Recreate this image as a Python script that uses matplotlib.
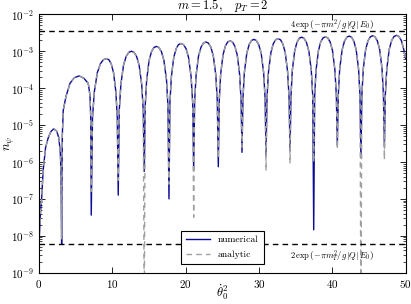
import numpy as np
import matplotlib
matplotlib.use("Agg")
import matplotlib.pyplot as plt
from matplotlib.ticker import LogLocator, NullFormatter

plt.rcParams['font.family'] = ['serif']
plt.rcParams['font.serif'] = ['cmr10', 'DejaVu Serif']
plt.rcParams['mathtext.fontset'] = 'cm'
plt.rcParams['axes.unicode_minus'] = False
plt.rcParams['axes.formatter.use_mathtext'] = True

# ---- data ----
# shared arch points (both curves coincide away from the dips)
theta2_arch = [
    0.15, 0.35, 0.57, 0.9, 1.25, 1.6, 2.0, 2.4, 2.7, 2.9, 3.0,
    3.17, 3.30, 3.67, 4.22, 4.80, 5.48, 6.10, 6.71, 6.95, 7.05,
    7.29, 7.54, 7.95, 8.37, 8.78, 9.20, 9.52, 9.84, 10.16, 10.48, 10.67,
    10.94, 11.16, 11.52, 11.88, 12.24, 12.60, 12.95, 13.30, 13.65, 14.00, 14.21,
    14.48, 14.68, 15.01, 15.34, 15.67, 16.00, 16.34, 16.69, 17.03, 17.38, 17.58,
    17.85, 18.05, 18.37, 18.70, 19.02, 19.35, 19.70, 20.05, 20.39, 20.74, 20.95,
    21.22, 21.42, 21.75, 22.09, 22.42, 22.75, 23.09, 23.43, 23.77, 24.11, 24.31,
    24.58, 24.77, 25.09, 25.41, 25.73, 26.05, 26.38, 26.70, 27.03, 27.35, 27.55,
    27.81, 28.00, 28.33, 28.65, 28.98, 29.30, 29.63, 29.96, 30.30, 30.63, 30.83,
    31.09, 31.29, 31.62, 31.94, 32.27, 32.60, 32.93, 33.25, 33.58, 33.90, 34.10,
    34.36, 34.54, 34.86, 35.17, 35.49, 35.80, 36.13, 36.46, 36.80, 37.13, 37.33,
    37.59, 37.78, 38.10, 38.41, 38.73, 39.05, 39.38, 39.70, 40.03, 40.35, 40.55,
    40.81, 41.00, 41.33, 41.65, 41.98, 42.30, 42.62, 42.94, 43.26, 43.58, 43.77,
    44.03, 44.22, 44.54, 44.86, 45.18, 45.50, 45.82, 46.14, 46.46, 46.78, 46.97,
    47.23, 47.43, 47.76, 48.09, 48.42, 48.75, 49.08, 49.41, 49.74, 50.00,
]
n_arch = [
    3.2e-8, 1.0e-7, 6.3e-7, 2.5e-6, 4.5e-6, 6.6e-6, 7.9e-6, 6.9e-6, 4.5e-6, 1.8e-6, 5.0e-7,
    5.0e-6, 2.5e-5, 5.9e-5, 1.35e-4, 1.91e-4, 2.14e-4, 1.86e-4, 1.35e-4, 6.3e-5, 1.6e-5,
    1.58e-5, 7.94e-5, 2.63e-4, 4.57e-4, 5.89e-4, 6.31e-4, 5.89e-4, 4.57e-4, 2.63e-4, 7.94e-5, 1.58e-5,
    2.51e-5, 1.26e-4, 4.17e-4, 7.24e-4, 9.33e-4, 1.00e-3, 9.33e-4, 7.24e-4, 4.17e-4, 1.26e-4, 2.51e-5,
    3.39e-5, 1.70e-4, 5.62e-4, 9.77e-4, 1.26e-3, 1.35e-3, 1.26e-3, 9.77e-4, 5.62e-4, 1.70e-4, 3.39e-5,
    4.07e-5, 2.04e-4, 6.76e-4, 1.17e-3, 1.51e-3, 1.62e-3, 1.51e-3, 1.17e-3, 6.76e-4, 2.04e-4, 4.07e-5,
    4.47e-5, 2.24e-4, 7.41e-4, 1.29e-3, 1.66e-3, 1.78e-3, 1.66e-3, 1.29e-3, 7.41e-4, 2.24e-4, 4.47e-5,
    4.79e-5, 2.40e-4, 7.94e-4, 1.38e-3, 1.78e-3, 1.91e-3, 1.78e-3, 1.38e-3, 7.94e-4, 2.40e-4, 4.79e-5,
    5.25e-5, 2.63e-4, 8.71e-4, 1.51e-3, 1.95e-3, 2.09e-3, 1.95e-3, 1.51e-3, 8.71e-4, 2.63e-4, 5.25e-5,
    5.50e-5, 2.75e-4, 9.12e-4, 1.58e-3, 2.04e-3, 2.19e-3, 2.04e-3, 1.58e-3, 9.12e-4, 2.75e-4, 5.50e-5,
    6.03e-5, 3.02e-4, 1.00e-3, 1.74e-3, 2.24e-3, 2.40e-3, 2.24e-3, 1.74e-3, 1.00e-3, 3.02e-4, 6.03e-5,
    6.17e-5, 3.09e-4, 1.02e-3, 1.78e-3, 2.29e-3, 2.45e-3, 2.29e-3, 1.78e-3, 1.02e-3, 3.09e-4, 6.17e-5,
    6.46e-5, 3.24e-4, 1.07e-3, 1.86e-3, 2.40e-3, 2.57e-3, 2.40e-3, 1.86e-3, 1.07e-3, 3.24e-4, 6.46e-5,
    6.61e-5, 3.31e-4, 1.10e-3, 1.91e-3, 2.45e-3, 2.63e-3, 2.45e-3, 1.91e-3, 1.10e-3, 3.31e-4, 6.61e-5,
    6.76e-5, 3.39e-4, 1.12e-3, 1.95e-3, 2.51e-3, 2.69e-3, 2.51e-3, 1.95e-3, 1.12e-3, 6.31e-4,
]
# dips (minima) where the two curves differ
theta2_dip = [0.0, 3.08, 7.12, 10.80, 14.35, 17.72, 21.09, 24.45, 27.68,
              30.96, 34.23, 37.46, 40.68, 43.90, 47.10]
n_dip_numerical = [6.3e-9, 6.0e-9, 3.63e-8, 1.26e-7, 5.5e-7, 1.0e-7, 6.03e-7,
                   7.41e-7, 1.82e-6, 1.58e-6, 2.0e-6, 1.45e-8, 2.82e-6, 1.29e-6, 2.51e-6]
n_dip_analytic = [6.3e-9, 8.0e-9, 1.58e-7, 3.16e-7, 1e-10, 2.5e-7, 3.16e-8,
                  1.26e-6, 2.51e-6, 5.75e-7, 9.12e-7, 1.0e-6, 2.24e-6, 1e-10, 1.17e-6]

upper_bound = 3.45e-3   # 4 exp(-pi m^2 / g|Q|E0)
lower_bound = 5.9e-9    # 2 exp(-pi mT^2 / g|Q|E0)

x_ticks = [0, 10, 20, 30, 40, 50]


def assemble(dips):
    x = np.array(theta2_arch + theta2_dip)
    y = np.array(n_arch + dips)
    order = np.argsort(x, kind="stable")
    return x[order], y[order]


x_num, y_num = assemble(n_dip_numerical)
x_ana, y_ana = assemble(n_dip_analytic)

fig = plt.figure(figsize=(4.11, 3.04), dpi=100)
ax = fig.add_axes([0.095, 0.103, 0.892, 0.850])

ax.plot(x_num, y_num, color='#0a0a96', lw=1.0, label='numerical')
ax.plot(x_ana, y_ana, color='#a0a0a0', lw=1.0, dashes=(4, 3), label='analytic')
ax.axhline(upper_bound, color='black', lw=1.0, dashes=(4, 3))
ax.axhline(lower_bound, color='black', lw=1.0, dashes=(4, 3))

ax.set_yscale('log')
ax.set_xlim(0, 50)
ax.set_ylim(1e-9, 1e-2)
ax.set_xticks(x_ticks)
ax.yaxis.set_major_locator(LogLocator(base=10, numticks=20))
ax.yaxis.set_minor_locator(LogLocator(base=10, subs=np.arange(2, 10), numticks=20))
ax.yaxis.set_minor_formatter(NullFormatter())

ax.tick_params(which='both', direction='in', top=True, right=True, labelsize=8)
ax.tick_params(which='major', length=4, width=0.6)
ax.tick_params(which='minor', length=2, width=0.5)
for s in ax.spines.values():
    s.set_linewidth(0.8)

ax.set_title(r'$m = 1.5, \quad p_T = 2$', fontsize=9, pad=2)
ax.set_xlabel(r'$\dot{\theta}_0^2$', fontsize=9, va='center')
ax.xaxis.set_label_coords(0.5, -0.075)
ax.set_ylabel(r'$n_\psi$', fontsize=9, va='center')
ax.yaxis.set_label_coords(-0.078, 0.5)

ax.text(0.80, 0.955, r'$4\,\exp\left(-\pi m^2/g\,|Q|\,E_0\right)$',
        transform=ax.transAxes, fontsize=6.2, ha='center', va='center')
ax.text(0.80, 0.065, r'$2\,\exp\left(-\pi m_T^2/g\,|Q|\,E_0\right)$',
        transform=ax.transAxes, fontsize=6.2, ha='center', va='center')

leg = ax.legend(loc='lower center', bbox_to_anchor=(0.5, 0.015), fontsize=7,
                fancybox=False, framealpha=1, edgecolor='black',
                handlelength=2.5, borderpad=0.5, labelspacing=0.6)
leg.get_frame().set_linewidth(0.8)

fig.savefig('out.png', dpi=100)
